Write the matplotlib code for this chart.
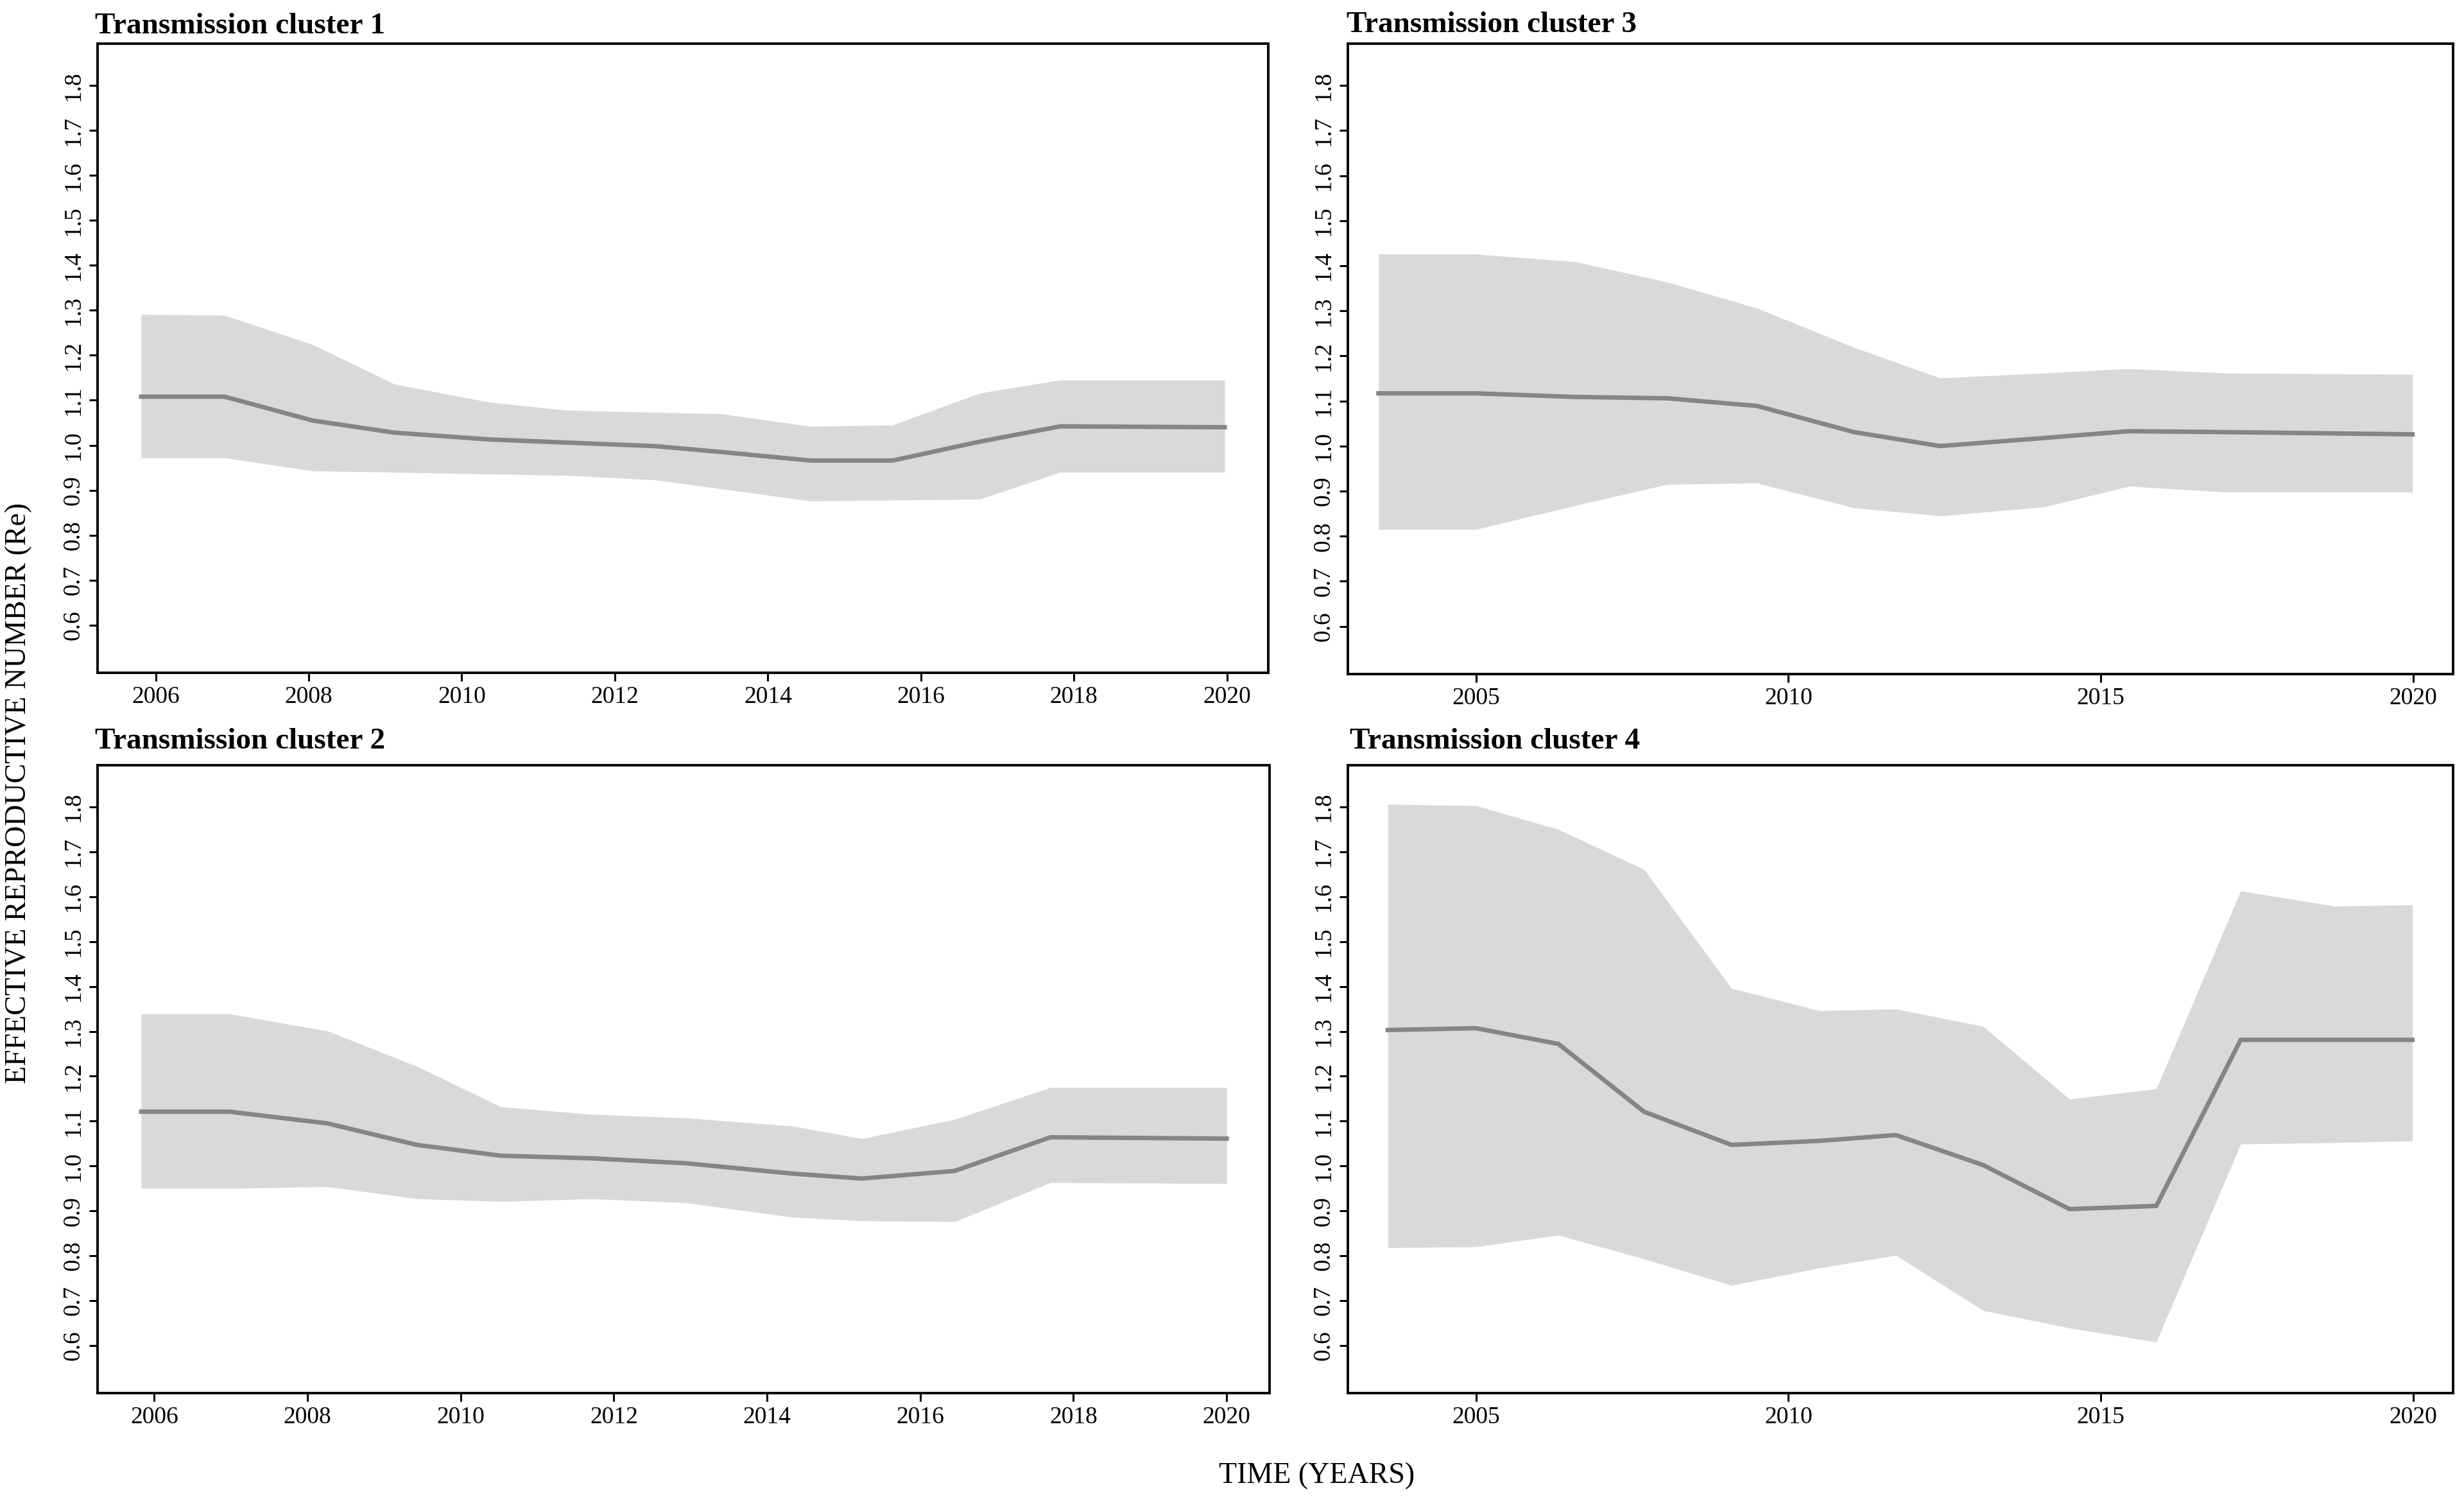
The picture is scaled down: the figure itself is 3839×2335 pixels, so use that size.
import matplotlib
matplotlib.use("Agg")
import matplotlib.pyplot as plt
import numpy as np

# ---------------- data ----------------
# Transmission cluster 1
t1 = [2005.81, 2006.90, 2008.05, 2009.12, 2010.35, 2011.36, 2012.53, 2013.39, 2014.56, 2015.63, 2016.77, 2017.82, 2019.97]
m1 = [1.108, 1.108, 1.055, 1.028, 1.013, 1.006, 0.998, 0.985, 0.966, 0.966, 1.008, 1.042, 1.040]
u1 = [1.291, 1.289, 1.224, 1.136, 1.096, 1.078, 1.073, 1.070, 1.042, 1.045, 1.116, 1.145, 1.145]
l1 = [0.972, 0.972, 0.943, 0.940, 0.936, 0.933, 0.923, 0.903, 0.876, 0.878, 0.880, 0.940, 0.940]

# Transmission cluster 2
t2 = [2005.83, 2006.98, 2008.26, 2009.43, 2010.52, 2011.72, 2012.95, 2014.33, 2015.24, 2016.45, 2017.70, 2020.00]
m2 = [1.121, 1.121, 1.095, 1.047, 1.023, 1.017, 1.006, 0.983, 0.972, 0.989, 1.064, 1.061]
u2 = [1.339, 1.339, 1.301, 1.222, 1.132, 1.115, 1.107, 1.089, 1.061, 1.104, 1.175, 1.175]
l2 = [0.950, 0.950, 0.954, 0.927, 0.921, 0.927, 0.918, 0.886, 0.878, 0.876, 0.963, 0.961]

# Transmission cluster 3
t3 = [2003.44, 2005.00, 2006.59, 2008.06, 2009.50, 2011.05, 2012.43, 2014.10, 2015.45, 2016.97, 2019.99]
m3 = [1.117, 1.117, 1.109, 1.106, 1.089, 1.031, 1.000, 1.018, 1.033, 1.031, 1.026]
u3 = [1.426, 1.426, 1.409, 1.364, 1.306, 1.219, 1.151, 1.162, 1.172, 1.162, 1.159]
l3 = [0.815, 0.815, 0.868, 0.915, 0.918, 0.863, 0.845, 0.865, 0.911, 0.898, 0.898]

# Transmission cluster 4
t4 = [2003.59, 2005.00, 2006.32, 2007.69, 2009.09, 2010.50, 2011.72, 2013.12, 2014.50, 2015.89, 2017.24, 2018.74, 2019.99]
m4 = [1.303, 1.307, 1.272, 1.121, 1.047, 1.056, 1.069, 1.002, 0.904, 0.911, 1.281, 1.281, 1.281]
u4 = [1.806, 1.803, 1.750, 1.661, 1.396, 1.346, 1.350, 1.311, 1.149, 1.172, 1.613, 1.579, 1.582]
l4 = [0.818, 0.820, 0.846, 0.793, 0.734, 0.773, 0.801, 0.678, 0.639, 0.608, 1.049, 1.052, 1.056]

titles = ["Transmission cluster 1", "Transmission cluster 2",
          "Transmission cluster 3", "Transmission cluster 4"]
yticks = [0.6, 0.7, 0.8, 0.9, 1.0, 1.1, 1.2, 1.3, 1.4, 1.5, 1.6, 1.7, 1.8]
xticks_a = [2006, 2008, 2010, 2012, 2014, 2016, 2018, 2020]
xticks_b = [2005, 2010, 2015, 2020]
ylabel = "EFFECTIVE REPRODUCTIVE NUMBER (Re)"
xlabel = "TIME (YEARS)"

# ---------------- figure ----------------
W, H = 3839, 2335
DPI = 100
plt.rcParams['font.family'] = ['Liberation Serif', 'DejaVu Serif']
fig = plt.figure(figsize=(W / DPI, H / DPI), dpi=DPI)

FILL = '#d9d9d9'
LINE = '#858585'

def box(l, t, r, b):
    return [l / W, 1 - b / H, (r - l) / W, (b - t) / H]

panels = [
    (box(152, 68, 1976, 1048), t1, m1, u1, l1, titles[0], xticks_a, (2005.24, 2020.54), (148, 52)),
    (box(152, 1192, 1978, 2170), t2, m2, u2, l2, titles[1], xticks_a, (2005.26, 2020.56), (148, 1166)),
    (box(2100, 68, 3822, 1050), t3, m3, u3, l3, titles[2], xticks_b, (2002.95, 2020.64), (2098, 50)),
    (box(2100, 1192, 3822, 2170), t4, m4, u4, l4, titles[3], xticks_b, (2002.95, 2020.64), (2103, 1166)),
]

for rect, t, m, u, l, title, xt, xl, tpos in panels:
    ax = fig.add_axes(rect)
    ax.fill_between(t, l, u, color=FILL, linewidth=0, zorder=1)
    ax.plot(t, m, color=LINE, linewidth=5.0, zorder=2, solid_joinstyle='round')
    ax.set_xlim(*xl)
    ax.set_ylim(0.494, 1.893)
    ax.set_xticks(xt)
    ax.set_xticklabels([str(v) for v in xt])
    ax.set_yticks(yticks)
    ax.set_yticklabels([f"{v:.1f}" for v in yticks])
    for s in ax.spines.values():
        s.set_linewidth(2.8)
        s.set_color('black')
    ax.tick_params(axis='both', direction='out', length=9.5, width=2.2,
                   labelsize=27, pad=5, color='black')
    ax.tick_params(axis='y', labelrotation=90)
    for lab in ax.get_yticklabels():
        lab.set_va('center')
    fig.text(tpos[0] / W, 1 - tpos[1] / H, title, fontsize=34,
             fontweight='bold', ha='left', va='baseline')

fig.text(29 / W, 1 - 1236 / H, ylabel, rotation=90, fontsize=33,
         ha='center', va='center')
fig.text(2052 / W, 1 - 2299 / H, xlabel, fontsize=33,
         ha='center', va='center')

fig.savefig("out.png", dpi=DPI)
